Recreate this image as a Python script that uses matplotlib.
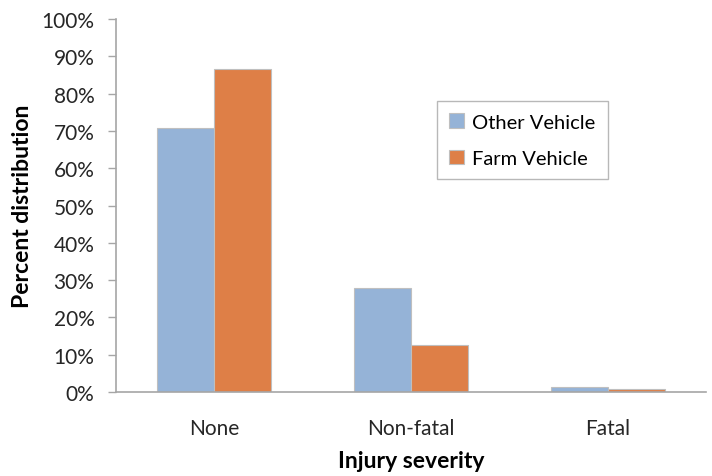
import matplotlib
matplotlib.use("Agg")
import matplotlib.pyplot as plt
import numpy as np
from matplotlib.ticker import PercentFormatter

categories = ["None", "Non-fatal", "Fatal"]
other_vehicle = [70.8, 27.9, 1.3]
farm_vehicle = [86.6, 12.6, 0.9]
series_names = ["Other Vehicle", "Farm Vehicle"]
yticks = list(range(0, 101, 10))

plt.rcParams['font.family'] = ['Lato', 'DejaVu Sans']

fig = plt.figure(figsize=(7.12, 4.77), dpi=100)
ax = fig.add_axes([0.163, 0.176, 0.829, 0.782])

x = np.arange(len(categories))
w = 0.29
ax.bar(x - w/2, other_vehicle, w, color="#95B3D7", edgecolor="#BFBFBF", linewidth=0.8, label=series_names[0])
ax.bar(x + w/2, farm_vehicle, w, color="#DE7F47", edgecolor="#BFBFBF", linewidth=0.8, label=series_names[1])

ax.set_xlim(-0.5, 2.5)
ax.set_ylim(0, 100)
ax.set_yticks(yticks)
ax.yaxis.set_major_formatter(PercentFormatter(decimals=0))
ax.set_xticks(x)
ax.set_xticklabels(categories)
ax.tick_params(axis='x', length=0, pad=19, labelsize=15, colors="#262626")
ax.tick_params(axis='y', length=5.5, width=1, color="#A6A6A6", labelsize=15, labelcolor="#262626", pad=10)
for s in ["top", "right"]:
    ax.spines[s].set_visible(False)
for s in ["left", "bottom"]:
    ax.spines[s].set_color("#A6A6A6")
    ax.spines[s].set_linewidth(1.2)

ax.set_ylabel("Percent distribution", fontsize=16.5, fontweight="bold", labelpad=6)
ax.set_xlabel("Injury severity", fontsize=16.5, fontweight="bold", labelpad=8)

leg = ax.legend(loc="upper left", bbox_to_anchor=(0.544, 0.78), fontsize=14.5, frameon=True,
                fancybox=False, edgecolor="#A6A6A6", handlelength=0.75, handleheight=0.75,
                handletextpad=0.4, labelspacing=0.95, borderpad=0.6, borderaxespad=0)
leg.get_frame().set_linewidth(1)

fig.savefig("out.png", dpi=100)
